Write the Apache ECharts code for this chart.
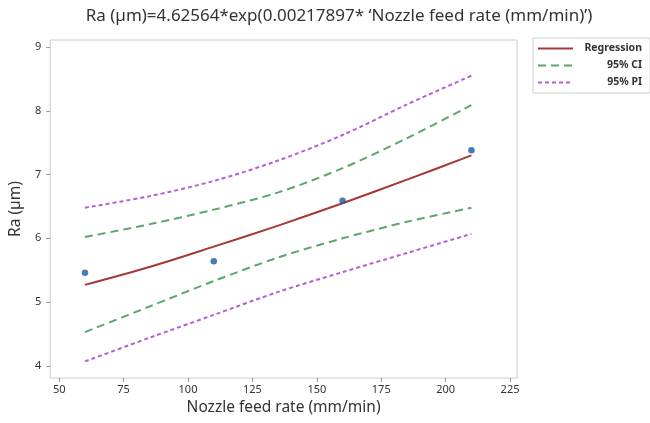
<!DOCTYPE html>
<html>
<head>
<meta charset="utf-8">
<script src="https://cdn.jsdelivr.net/npm/echarts@6.0.0/dist/echarts.min.js"></script>
<style>
html,body{margin:0;padding:0;background:#fff;}
#chart{width:650px;height:423px;}
</style>
</head>
<body>
<div id="chart"></div>
<script>
// ---- data ----
var fitX = [60, 85, 110, 135, 160, 185, 210];
var regression = [5.27, 5.55, 5.87, 6.20, 6.55, 6.92, 7.30];
var ciUpper = [6.02, 6.22, 6.45, 6.72, 7.10, 7.57, 8.09];
var ciLower = [4.53, 4.93, 5.33, 5.70, 6.00, 6.26, 6.48];
var piUpper = [6.48, 6.66, 6.90, 7.22, 7.62, 8.10, 8.55];
var piLower = [4.07, 4.44, 4.80, 5.16, 5.47, 5.77, 6.07];
var obsX = [60, 110, 160, 210];
var obsY = [5.46, 5.64, 6.59, 7.38];
var xTicks = [50, 75, 100, 125, 150, 175, 200, 225];
var yTicks = [4, 5, 6, 7, 8, 9];
var titleText = "Ra (\u00b5m)=4.62564*exp(0.00217897* \u2018Nozzle feed rate (mm/min)\u2019)";
var xName = "Nozzle feed rate (mm/min)";
var yName = "Ra (\u00b5m)";
var legendNames = ["Regression", "95% CI", "95% PI"];

function pairs(xs, ys) { return xs.map(function (x, i) { return [x, ys[i]]; }); }

var FONT = "Noto Sans";
var chart = echarts.init(document.getElementById('chart'), null, {renderer: 'canvas'});
var option = {
  backgroundColor: '#fff',
  animation: false,
  title: {
    text: titleText,
    left: 334, top: 3, textAlign: 'center',
    textStyle: {fontFamily: FONT, fontSize: 17, fontWeight: 'normal', color: '#333'}
  },
  legend: {
    orient: 'vertical', left: 533, top: 38,
    data: legendNames,
    itemWidth: 35, itemHeight: 10, itemGap: 6,
    padding: [5, 8, 5, 4],
    borderColor: '#d0d0d0', borderWidth: 1,
    itemStyle: {opacity: 0},
    formatter: function (n) { return '{a|' + n + '}'; },
    textStyle: {
      fontFamily: FONT, fontSize: 10.5, fontWeight: 'bold', color: '#333',
      rich: {a: {width: 64, align: 'right', fontFamily: FONT, fontSize: 10.5, fontWeight: 'bold', color: '#333'}}
    }
  },
  grid: {left: 50, right: 133, top: 40, bottom: 45, show: true, borderColor: '#cccccc', borderWidth: 1},
  xAxis: {
    type: 'value', min: 46.5, max: 227.7,
    name: xName, nameLocation: 'middle', nameGap: 22,
    nameTextStyle: {fontFamily: FONT, fontSize: 15.5, color: '#333'},
    axisLine: {show: false},
    axisTick: {show: true, length: 4, lineStyle: {color: '#999'}, customValues: xTicks},
    axisLabel: {fontFamily: FONT, fontSize: 11, color: '#333', margin: 6, customValues: xTicks},
    splitLine: {show: false}
  },
  yAxis: {
    type: 'value', min: 3.81, max: 9.11,
    name: yName, nameLocation: 'middle', nameGap: 25,
    nameTextStyle: {fontFamily: FONT, fontSize: 15.5, color: '#333'},
    axisLine: {show: false},
    axisTick: {show: true, length: 4, lineStyle: {color: '#999'}, customValues: yTicks},
    axisLabel: {fontFamily: FONT, fontSize: 11, color: '#333', margin: 9, customValues: yTicks},
    splitLine: {show: false}
  },
  series: [
    {name: 'Regression', type: 'line', data: pairs(fitX, regression), smooth: 0.3, symbol: 'none',
     lineStyle: {color: '#a6383a', width: 2}, itemStyle: {color: '#a6383a'}},
    {name: '95% CI', type: 'line', data: pairs(fitX, ciUpper), smooth: 0.3, symbol: 'none',
     lineStyle: {color: '#5aa86b', width: 2, type: [8, 5]}, itemStyle: {color: '#5aa86b'}},
    {name: '95% CI', type: 'line', data: pairs(fitX, ciLower), smooth: 0.3, symbol: 'none',
     lineStyle: {color: '#5aa86b', width: 2, type: [8, 5]}, itemStyle: {color: '#5aa86b'}},
    {name: '95% PI', type: 'line', data: pairs(fitX, piUpper), smooth: 0.3, symbol: 'none',
     lineStyle: {color: '#b45fd6', width: 2, type: [4, 3]}, itemStyle: {color: '#b45fd6'}},
    {name: '95% PI', type: 'line', data: pairs(fitX, piLower), smooth: 0.3, symbol: 'none',
     lineStyle: {color: '#b45fd6', width: 2, type: [4, 3]}, itemStyle: {color: '#b45fd6'}},
    {name: 'Observed', type: 'scatter', data: pairs(obsX, obsY), symbol: 'circle', symbolSize: 6.5,
     itemStyle: {color: '#1a5aa8'}, z: 5}
  ]
};
chart.setOption(option);
</script>
</body>
</html>
